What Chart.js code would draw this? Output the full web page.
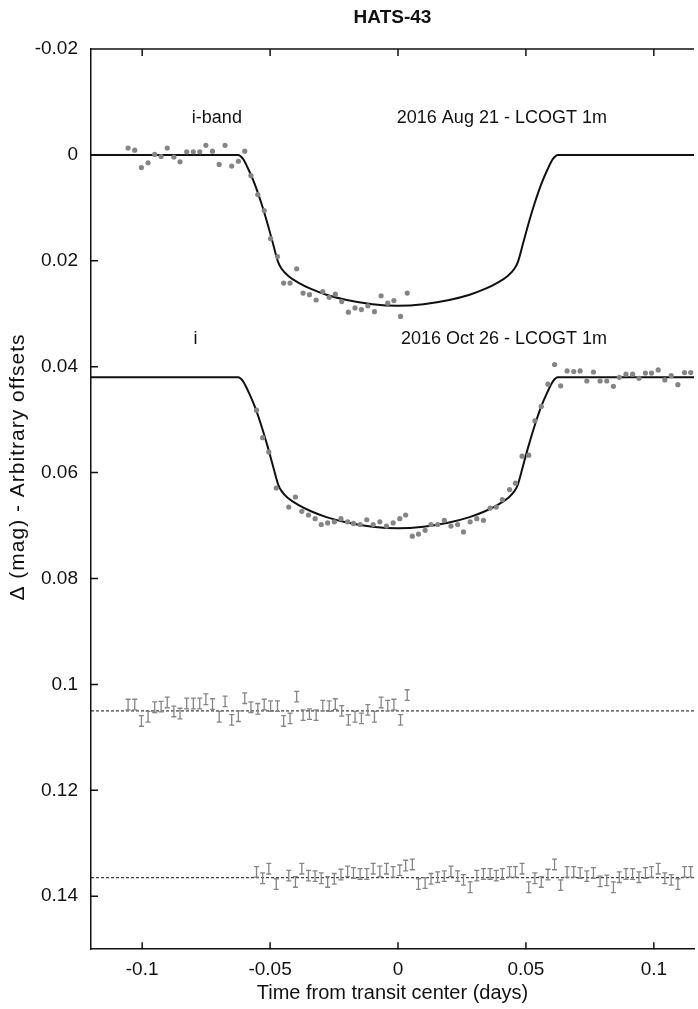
<!DOCTYPE html>
<html>
<head>
<meta charset="utf-8">
<script src="https://cdn.jsdelivr.net/npm/chart.js@4/dist/chart.umd.min.js"></script>
<style>
  body { margin: 0; background: #fff; }
  #wrap { width: 698px; height: 1009px; position: relative; }
</style>
</head>
<body>
<div id="wrap"><canvas id="lcChart"></canvas></div>
<script>
// HATS-43 light curves
const xTickValues = [-0.1, -0.05, 0, 0.05, 0.1];
const yTickValues = [-0.02, 0, 0.02, 0.04, 0.06, 0.08, 0.1, 0.12, 0.14];

// 2016 Aug 21, i-band
const timeAug = [-0.1055,-0.1029,-0.1003,-0.0977,-0.0951,-0.0926,-0.0902,-0.0876,-0.0852,-0.0826,-0.0800,-0.0775,-0.0751,-0.0725,-0.0699,-0.0676,-0.0650,-0.0624,-0.0599,-0.0575,-0.0548,-0.0523,-0.0498,-0.0471,-0.0447,-0.0422,-0.0396,-0.0371,-0.0346,-0.0320,-0.0294,-0.0269,-0.0245,-0.0220,-0.0194,-0.0168,-0.0143,-0.0118,-0.0092,-0.0066,-0.0040,-0.0016,0.0010,0.0036];
const magAug = [-0.0013,-0.0009,0.0024,0.0015,-0.0001,0.0003,-0.0013,0.0004,0.0013,-0.0006,-0.0006,-0.0006,-0.0018,-0.0007,0.0018,-0.0018,0.0021,0.0012,-0.0007,0.0039,0.0075,0.0105,0.0158,0.0192,0.0242,0.0242,0.0215,0.0261,0.0264,0.0274,0.0258,0.0269,0.0263,0.0277,0.0297,0.0289,0.0292,0.0285,0.0296,0.0266,0.0280,0.0275,0.0305,0.0261];
const residAug = [0.1038,0.1038,0.1069,0.1061,0.1043,0.1042,0.1034,0.1051,0.1055,0.1036,0.1036,0.1036,0.1028,0.1037,0.1061,0.1032,0.1067,0.1060,0.1026,0.1043,0.1046,0.1038,0.1041,0.1041,0.1069,0.1064,0.1023,0.1058,0.1056,0.1058,0.1040,0.1041,0.1037,0.1050,0.1067,0.1061,0.1064,0.1048,0.1061,0.1034,0.1040,0.1038,0.1067,0.1020];

// 2016 Oct 26, i
const timeOct = [-0.0553,-0.0529,-0.0505,-0.0476,-0.0427,-0.0401,-0.0376,-0.0350,-0.0324,-0.0300,-0.0275,-0.0249,-0.0223,-0.0197,-0.0174,-0.0148,-0.0122,-0.0097,-0.0071,-0.0045,-0.0019,0.0007,0.0030,0.0056,0.0080,0.0106,0.0129,0.0155,0.0181,0.0207,0.0233,0.0256,0.0282,0.0308,0.0334,0.0360,0.0384,0.0408,0.0436,0.0459,0.0485,0.0511,0.0535,0.0560,0.0586,0.0612,0.0636,0.0661,0.0687,0.0712,0.0738,0.0764,0.0790,0.0816,0.0842,0.0865,0.0891,0.0917,0.0942,0.0967,0.0991,0.1017,0.1043,0.1068,0.1094,0.1120,0.1144];
const magOct = [0.0482,0.0534,0.0561,0.0629,0.0665,0.0646,0.0673,0.0680,0.0687,0.0698,0.0695,0.0693,0.0687,0.0693,0.0696,0.0698,0.0689,0.0698,0.0693,0.0701,0.0695,0.0687,0.0680,0.0720,0.0716,0.0709,0.0698,0.0698,0.0690,0.0701,0.0698,0.0712,0.0693,0.0687,0.0690,0.0667,0.0665,0.0651,0.0632,0.0620,0.0569,0.0567,0.0502,0.0475,0.0433,0.0396,0.0436,0.0408,0.0409,0.0408,0.0427,0.0410,0.0427,0.0427,0.0437,0.0420,0.0414,0.0414,0.0422,0.0412,0.0412,0.0406,0.0425,0.0417,0.0434,0.0411,0.0411];
const residOct = [0.1354,0.1366,0.1348,0.1377,0.1361,0.1373,0.1348,0.1361,0.1362,0.1366,0.1373,0.1367,0.1359,0.1353,0.1356,0.1358,0.1358,0.1348,0.1353,0.1348,0.1354,0.1351,0.1342,0.1340,0.1377,0.1375,0.1367,0.1364,0.1362,0.1353,0.1362,0.1369,0.1383,0.1361,0.1358,0.1358,0.1361,0.1358,0.1354,0.1354,0.1348,0.1383,0.1366,0.1373,0.1359,0.1340,0.1379,0.1354,0.1354,0.1356,0.1362,0.1356,0.1372,0.1370,0.1383,0.1364,0.1358,0.1358,0.1364,0.1356,0.1354,0.1348,0.1366,0.1369,0.1377,0.1354,0.1354];
const residErr = 0.001;

// model curves
const modelTime = [-0.12,-0.0625,-0.0605,-0.0583,-0.0560,-0.0535,-0.0510,-0.0490,-0.0468,-0.0455,-0.0430,-0.0390,-0.0340,-0.0280,-0.0200,-0.0100,0,0.0100,0.0200,0.0280,0.0340,0.0390,0.0430,0.0455,0.0468,0.0490,0.0510,0.0535,0.0560,0.0583,0.0605,0.0625,0.12];
const modelAug = [0,0,0.0008,0.0029,0.0055,0.0090,0.0130,0.0165,0.0203,0.0215,0.0228,0.0241,0.0253,0.0264,0.0274,0.0282,0.0285,0.0282,0.0274,0.0264,0.0253,0.0241,0.0228,0.0215,0.0203,0.0165,0.0130,0.0090,0.0055,0.0029,0.0008,0,0];
const modelOct = [0.0420,0.0420,0.0428,0.0449,0.0475,0.0510,0.0550,0.0585,0.0623,0.0635,0.0648,0.0661,0.0673,0.0684,0.0694,0.0702,0.0705,0.0702,0.0694,0.0684,0.0673,0.0661,0.0648,0.0635,0.0623,0.0585,0.0550,0.0510,0.0475,0.0449,0.0428,0.0420,0.0420];

// zero lines of the residuals
const residLevelAug = 0.105;
const residLevelOct = 0.1365;
const xRange = [-0.12, 0.1157];

const labels = [
  { text: "i-band", x: -0.0708, y: -0.0069 },
  { text: "2016 Aug 21 - LCOGT 1m", x: 0.0406, y: -0.0069 },
  { text: "i", x: -0.0792, y: 0.0347 },
  { text: "2016 Oct 26 - LCOGT 1m", x: 0.0414, y: 0.0347 }
];

const pts = (xs, ys) => xs.map((x, i) => ({ x: x, y: ys[i] }));
const FONT = '"Liberation Sans", Arial, Helvetica, sans-serif';

const framePlugin = {
  id: "frame",
  afterDatasetsDraw(chart) {
    const ctx = chart.ctx, y = chart.scales.y;
    ctx.save();
    ctx.strokeStyle = "#858585";
    ctx.lineWidth = 1.3;
    chart.data.datasets.forEach((ds, i) => {
      if (!ds.errorBars) return;
      chart.getDatasetMeta(i).data.forEach((el, j) => {
        const v = ds.data[j].y;
        const y1 = y.getPixelForValue(v - residErr), y2 = y.getPixelForValue(v + residErr);
        ctx.beginPath();
        ctx.moveTo(el.x, y1); ctx.lineTo(el.x, y2);
        ctx.moveTo(el.x - 2.5, y1); ctx.lineTo(el.x + 2.5, y1);
        ctx.moveTo(el.x - 2.5, y2); ctx.lineTo(el.x + 2.5, y2);
        ctx.stroke();
      });
    });
    ctx.restore();
  },
  afterDraw(chart) {
    const ctx = chart.ctx, a = chart.chartArea, x = chart.scales.x, y = chart.scales.y;
    ctx.save();
    ctx.strokeStyle = "#111";
    ctx.lineWidth = 1.5;
    ctx.beginPath();
    ctx.moveTo(a.left, a.top); ctx.lineTo(a.right, a.top);
    yTickValues.forEach(v => {
      const py = y.getPixelForValue(v);
      ctx.moveTo(a.left, py); ctx.lineTo(a.left + 7, py);
    });
    xTickValues.forEach(v => {
      const px = x.getPixelForValue(v);
      ctx.moveTo(px, a.bottom); ctx.lineTo(px, a.bottom - 7);
      ctx.moveTo(px, a.top); ctx.lineTo(px, a.top + 7);
    });
    ctx.stroke();

    ctx.fillStyle = "#111";
    ctx.font = "18px " + FONT;
    ctx.textAlign = "center";
    ctx.textBaseline = "middle";
    labels.forEach(l => ctx.fillText(l.text, x.getPixelForValue(l.x), y.getPixelForValue(l.y)));

    // y axis title
    ctx.font = "21px " + FONT;
    ctx.letterSpacing = "1px";
    ctx.translate(18, 467);
    ctx.rotate(-Math.PI / 2);
    ctx.fillText("\u0394 (mag) - Arbitrary offsets", 0, 0);
    ctx.restore();
  }
};

new Chart(document.getElementById("lcChart"), {
  type: "scatter",
  data: {
    datasets: [
      { label: "Aug 21", data: pts(timeAug, magAug), backgroundColor: "#858585", pointRadius: 2.6, borderWidth: 0 },
      { label: "Oct 26", data: pts(timeOct, magOct), backgroundColor: "#858585", pointRadius: 2.6, borderWidth: 0 },
      { label: "model Aug", data: pts(modelTime, modelAug), showLine: true, borderColor: "#111", borderWidth: 2, pointRadius: 0, cubicInterpolationMode: "monotone" },
      { label: "model Oct", data: pts(modelTime, modelOct), showLine: true, borderColor: "#111", borderWidth: 2, pointRadius: 0, cubicInterpolationMode: "monotone" },
      { label: "resid Aug", data: pts(timeAug, residAug), pointRadius: 0, errorBars: true },
      { label: "resid Oct", data: pts(timeOct, residOct), pointRadius: 0, errorBars: true },
      { label: "zero Aug", data: pts(xRange, [residLevelAug, residLevelAug]), showLine: true, borderColor: "#111", borderWidth: 1, borderDash: [3, 2], pointRadius: 0 },
      { label: "zero Oct", data: pts(xRange, [residLevelOct, residLevelOct]), showLine: true, borderColor: "#111", borderWidth: 1, borderDash: [3, 2], pointRadius: 0 }
    ]
  },
  options: {
    responsive: true,
    maintainAspectRatio: false,
    animation: false,
    layout: { padding: 0 },
    plugins: {
      legend: { display: false },
      tooltip: { enabled: false },
      title: {
        display: true,
        text: "HATS-43",
        fullSize: false,
        color: "#111",
        font: { family: FONT, size: 19, weight: "bold" },
        padding: { top: 6, bottom: 20.2 }
      }
    },
    scales: {
      x: {
        type: "linear",
        min: xRange[0],
        max: xRange[1],
        afterBuildTicks: s => { s.ticks = xTickValues.map(v => ({ value: v })); },
        ticks: {
          color: "#111",
          padding: 9,
          font: { family: FONT, size: 19 },
          callback: v => String(Number(v.toFixed(2)))
        },
        grid: { display: false, drawTicks: false },
        border: { display: true, color: "#111", width: 1.5 },
        title: {
          display: true,
          text: "Time from transit center (days)",
          color: "#111",
          font: { family: FONT, size: 20 },
          padding: { top: -9, bottom: 4 }
        }
      },
      y: {
        type: "linear",
        reverse: true,
        min: -0.02,
        max: 0.15,
        afterBuildTicks: s => { s.ticks = yTickValues.map(v => ({ value: v })); },
        afterFit: s => { s.width = 91; },
        ticks: {
          color: "#111",
          padding: 13,
          font: { family: FONT, size: 19 },
          callback: v => String(Number(v.toFixed(2)))
        },
        grid: { display: false, drawTicks: false },
        border: { display: true, color: "#111", width: 1.5 }
      }
    }
  },
  plugins: [framePlugin]
});
</script>
</body>
</html>
